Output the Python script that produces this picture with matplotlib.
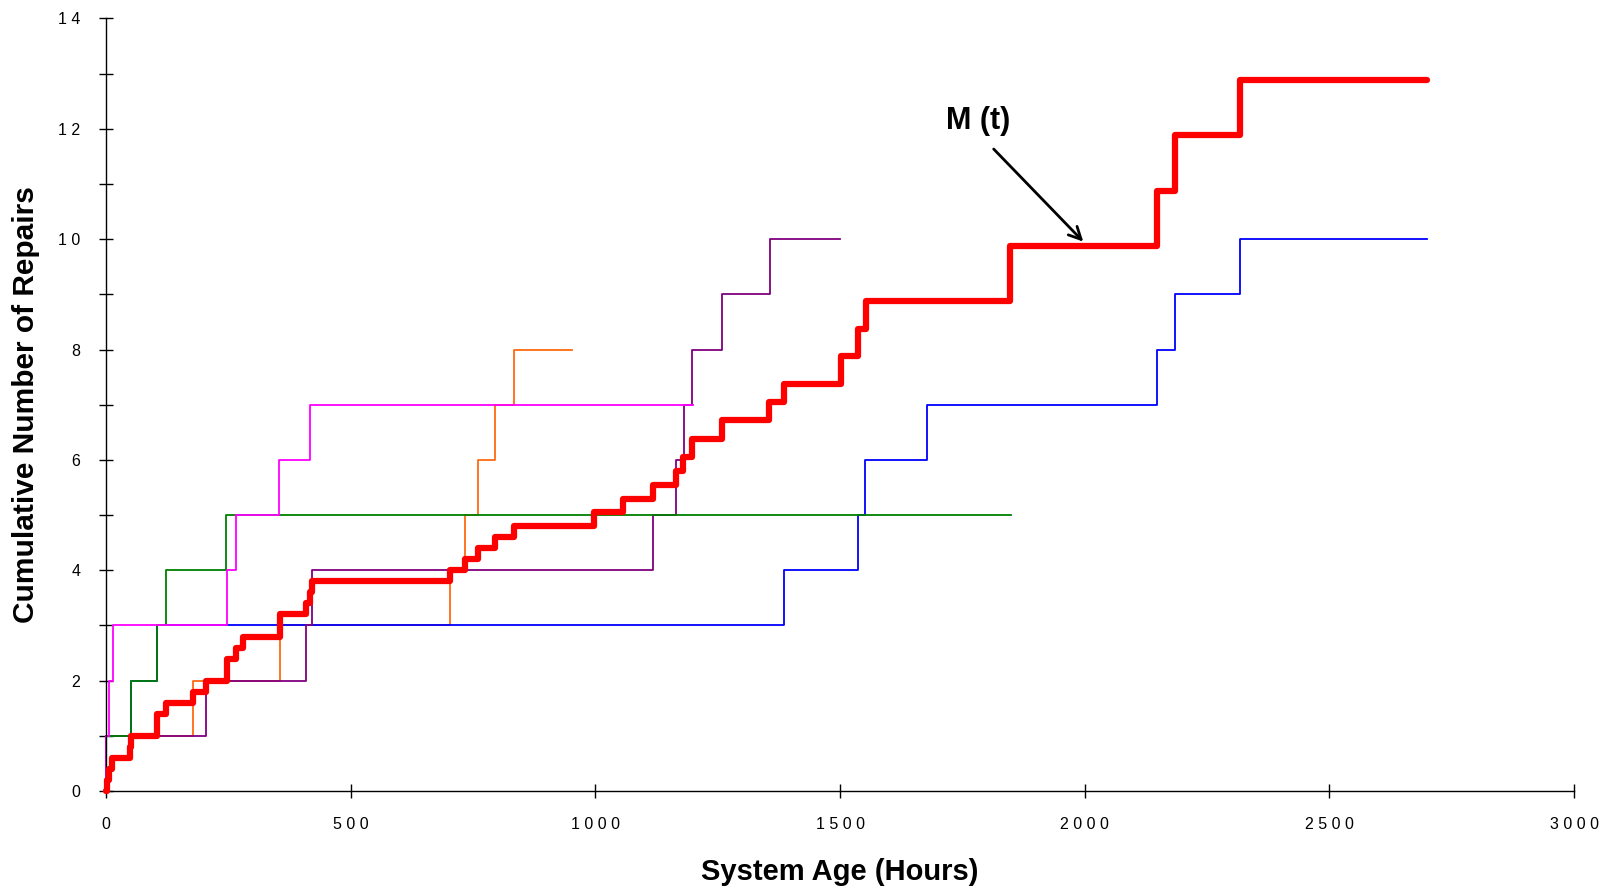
import matplotlib.pyplot as plt

plt.rcParams['font.family'] = ['Liberation Sans', 'DejaVu Sans']

# repair times (hours) for each system, with cumulative count after each repair
blue_times = [0, 52, 104, 1385, 1536, 1551, 1677, 2147, 2185, 2318]
blue_counts = [1, 2, 3, 4, 5, 6, 7, 8, 9, 10]
blue_end = 2700

green_times = [0, 50, 104, 123, 245]
green_counts = [1, 2, 3, 4, 5]
green_end = 1850

orange_times = [0, 177, 355, 702, 734, 761, 795, 834]
orange_counts = [1, 2, 3, 4, 5, 6, 7, 8]
orange_end = 952

purple_times = [0, 204, 409, 420, 1118, 1165, 1182, 1197, 1258, 1356]
purple_counts = [1, 2, 3, 4, 5, 6, 7, 8, 9, 10]
purple_end = 1500

magenta_times = [0, 7, 14, 247, 265, 354, 417]
magenta_counts = [1, 2, 3, 4, 5, 6, 7]
magenta_end = 1200

# mean cumulative function M(t)
mcf_times = [2, 7, 12, 48, 52, 104, 123, 177, 204, 247, 266, 280, 355, 408, 416, 420,
             702, 734, 761, 795, 834, 997, 1057, 1118, 1165, 1180, 1198, 1258, 1355,
             1386, 1501, 1536, 1553, 1848, 2147, 2185, 2318]
mcf_values = [0.2, 0.4, 0.6, 0.8, 1.0, 1.4, 1.6, 1.8, 2.0, 2.4, 2.6, 2.8, 3.2, 3.4, 3.6, 3.8,
              4.0, 4.2, 4.4, 4.6, 4.8, 5.05, 5.3, 5.55, 5.8, 6.05, 6.38, 6.72, 7.05,
              7.38, 7.88, 8.38, 8.88, 9.88, 10.88, 11.88, 12.88]
mcf_end = 2700

xticks = [0, 500, 1000, 1500, 2000, 2500, 3000]
xtick_labels = ['0', '5 0 0', '1 0 0 0', '1 5 0 0', '2 0 0 0', '2 5 0 0', '3 0 0 0']
yticks = [0, 2, 4, 6, 8, 10, 12, 14]
ytick_labels = ['0', '2', '4', '6', '8', '1 0', '1 2', '1 4']


def steps(times, counts, end):
    return [0] + times + [end], [0] + counts + [counts[-1]]


fig = plt.figure(figsize=(16.09, 8.88), dpi=100)
ax = fig.add_axes([0.0659, 0.1092, 0.9124, 0.870])

# drawing order: later ones sit on top
systems = [
    (orange_times, orange_counts, orange_end, '#ff6a10'),
    (blue_times, blue_counts, blue_end, '#0000ff'),
    (purple_times, purple_counts, purple_end, '#800080'),
    (green_times, green_counts, green_end, '#008000'),
    (magenta_times, magenta_counts, magenta_end, '#ff00ff'),
]
for times, counts, end, col in systems:
    x, y = steps(times, counts, end)
    ax.step(x, y, where='post', color=col, lw=1.3, clip_on=False)

x, y = steps(mcf_times, mcf_values, mcf_end)
ax.step(x, y, where='post', color='#ff0000', lw=4.5, clip_on=False,
        solid_capstyle='round', zorder=5)

ax.annotate('', xy=(2001, 9.92), xytext=(1810, 11.67),
            arrowprops=dict(arrowstyle='->', lw=2, color='black', mutation_scale=22))
ax.text(1782, 12.14, 'M (t)', fontsize=22, fontweight='bold', ha='center', va='center')

ax.set_xlim(0, 3000)
ax.set_ylim(0, 14)
ax.set_xticks(xticks)
ax.set_xticklabels(xtick_labels)
ax.set_yticks(yticks)
ax.set_yticklabels(ytick_labels)
ax.set_yticks([1, 3, 5, 7, 9, 11, 13], minor=True)
ax.tick_params(which='both', direction='inout', length=10, width=1, pad=13.5,
               labelsize=11.5, color='black')

for s in ['top', 'right']:
    ax.spines[s].set_visible(False)
for s in ['left', 'bottom']:
    ax.spines[s].set_linewidth(1)

ax.set_xlabel('System Age (Hours)', fontsize=21, fontweight='bold')
ax.set_ylabel('Cumulative Number of Repairs', fontsize=21.5, fontweight='bold')
ax.xaxis.set_label_coords(0.5, -0.087)
ax.yaxis.set_label_coords(-0.045, 0.5)

fig.savefig('out.png', dpi=100)
